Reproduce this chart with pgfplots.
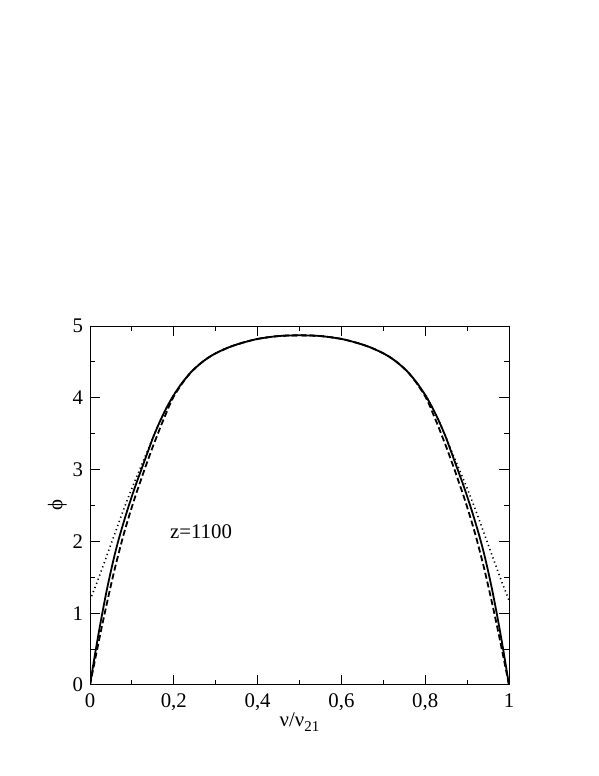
\documentclass[border=0pt]{standalone}
\usepackage{fontspec}
\setmainfont{Liberation Serif}
\usepackage{pgfplots}
\pgfplotsset{compat=1.18}
\begin{document}
\begin{tikzpicture}[font=\fontsize{10.4}{12}\selectfont]
\begin{axis}[
  scale only axis,
  width=209.5pt,
  height=179.5pt,
  xmin=0, xmax=1,
  ymin=0, ymax=5,
  xtick={0,0.2,...,1},
  minor xtick={0.1,0.3,...,0.9},
  ytick={0,1,...,5},
  minor ytick={0.5,1.5,...,4.5},
  tick align=inside,
  major tick length=5pt,
  minor tick length=2.5pt,
  axis line style={line width=0.5pt},
  every tick/.style={black, line width=0.5pt},
  /pgf/number format/use comma,
  /pgf/number format/assume math mode=true,
  tick label style={font=\fontsize{10.4}{12}\selectfont},
  xticklabel style={yshift=-1pt},
  xlabel={ν/ν\raisebox{-0.5ex}{\fontsize{7.5}{9}\selectfont 21}},
  ylabel={ϕ},
  xlabel style={yshift=6pt},
  ylabel style={yshift=-4pt},
]
% solid
\addplot[black, line width=0.9pt, smooth] coordinates {
(0,0) (0.01,0.36) (0.02,0.70) (0.03,1.02) (0.04,1.32) (0.05,1.59) (0.06,1.84)
(0.07,2.06) (0.08,2.26) (0.09,2.45) (0.10,2.63) (0.11,2.80) (0.12,2.96)
(0.13,3.12) (0.14,3.28) (0.15,3.44) (0.16,3.58) (0.17,3.71) (0.18,3.83)
(0.19,3.94) (0.20,4.04) (0.22,4.21) (0.24,4.35) (0.26,4.46) (0.28,4.55)
(0.30,4.62) (0.33,4.70) (0.36,4.76) (0.40,4.82) (0.45,4.86) (0.50,4.87)
(0.55,4.86) (0.60,4.82) (0.64,4.76) (0.67,4.70) (0.70,4.62) (0.72,4.55)
(0.74,4.46) (0.76,4.35) (0.78,4.21) (0.80,4.04) (0.81,3.94) (0.82,3.83)
(0.83,3.71) (0.84,3.58) (0.85,3.44) (0.86,3.28) (0.87,3.12) (0.88,2.96)
(0.89,2.80) (0.90,2.63) (0.91,2.45) (0.92,2.26) (0.93,2.06) (0.94,1.84)
(0.95,1.59) (0.96,1.32) (0.97,1.02) (0.98,0.70) (0.99,0.36) (1,0)};
% dashed
\addplot[black, line width=0.9pt, dash pattern=on 3pt off 1.5pt, smooth] coordinates {
(0,0) (0.01,0.29) (0.02,0.58) (0.03,0.86) (0.04,1.13) (0.05,1.39) (0.06,1.64)
(0.07,1.87) (0.08,2.09) (0.09,2.29) (0.10,2.48) (0.11,2.66) (0.12,2.83)
(0.13,3.0) (0.14,3.16) (0.15,3.32) (0.16,3.47) (0.17,3.62) (0.18,3.76)
(0.19,3.9) (0.20,4.02) (0.22,4.20) (0.24,4.35) (0.26,4.46) (0.28,4.55)
(0.30,4.62) (0.33,4.70) (0.36,4.76) (0.40,4.82) (0.45,4.86) (0.50,4.87)
(0.55,4.86) (0.60,4.82) (0.64,4.76) (0.67,4.70) (0.70,4.62) (0.72,4.55)
(0.74,4.46) (0.76,4.35) (0.78,4.20) (0.80,4.02) (0.81,3.9) (0.82,3.76)
(0.83,3.62) (0.84,3.47) (0.85,3.32) (0.86,3.16) (0.87,3.0) (0.88,2.83)
(0.89,2.66) (0.90,2.48) (0.91,2.29) (0.92,2.09) (0.93,1.87) (0.94,1.64)
(0.95,1.39) (0.96,1.13) (0.97,0.86) (0.98,0.58) (0.99,0.29) (1,0)};
% dotted
\addplot[black, line width=0.8pt, dash pattern=on 0.6pt off 1.6pt, smooth] coordinates {
(0,1.18) (0.02,1.48) (0.04,1.8) (0.06,2.12) (0.08,2.44) (0.10,2.74)
(0.12,3.02) (0.14,3.30) (0.16,3.58) (0.18,3.83) (0.20,4.04) (0.22,4.21)
(0.24,4.35) (0.26,4.46) (0.28,4.55) (0.30,4.62) (0.33,4.70) (0.36,4.76)
(0.40,4.82) (0.45,4.86) (0.50,4.87) (0.55,4.86) (0.60,4.82) (0.64,4.76)
(0.67,4.70) (0.70,4.62) (0.72,4.55) (0.74,4.46) (0.76,4.35) (0.78,4.21)
(0.80,4.04) (0.82,3.83) (0.84,3.58) (0.86,3.30) (0.88,3.02) (0.90,2.74)
(0.92,2.44) (0.94,2.12) (0.96,1.8) (0.98,1.48) (1,1.18)};
\node[anchor=center] at (axis cs:0.265,2.14) {z=1100};
\end{axis}
\pgfresetboundingbox
\path (-45pt,-45.5pt) rectangle (254.5pt,342.5pt);
\end{tikzpicture}
\end{document}
